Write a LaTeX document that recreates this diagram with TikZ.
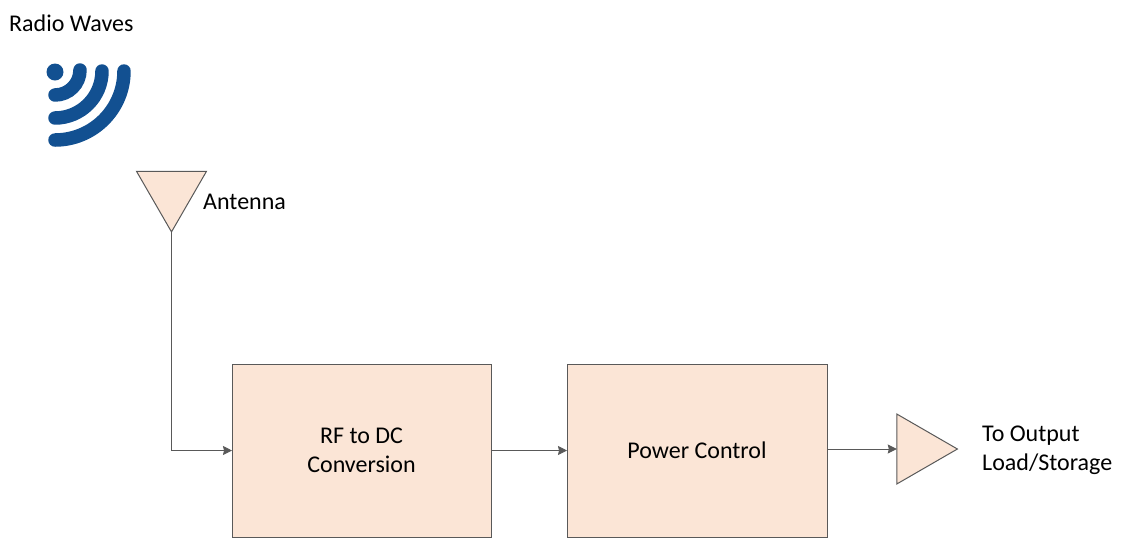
\documentclass[tikz,border=0pt]{standalone}
\usepackage{fontspec}
\setmainfont{Carlito}
\usetikzlibrary{
        arrows.meta,
        positioning,
        shapes.geometric
    }
\definecolor{peach}{HTML}{FBE5D6}
\definecolor{edgegray}{HTML}{595959}
\definecolor{waveblue}{HTML}{125091}
\tikzset{>={Stealth[length=9pt,width=9pt,inset=1pt]},node distance=76pt}
\tikzset{
    block/.style={draw=edgegray,line width=1pt,fill=peach,minimum width=259pt,minimum height=173pt,
        align=center,font=\fontsize{24}{29}\selectfont,outer sep=0pt},
    tri/.style={regular polygon,regular polygon sides=3,draw=edgegray,line width=1pt,fill=peach,
        minimum size=80.8pt,inner sep=0pt,outer sep=0pt},
    lbl/.style={anchor=west,align=left,inner sep=0pt,font=\fontsize{24}{29}\selectfont},
    wave/.style={draw=waveblue,line width=13.5pt,line cap=round}
}
\begin{document}
\begin{tikzpicture}[x=1pt,y=-1pt]
    \useasboundingbox (0,0) rectangle (1129,558);
    \node[lbl] (radio) at (9,23) {Radio Waves};
    \fill[waveblue] (55,72) circle (8.5pt);
    \foreach \r/\ys in {25/70,47/71,69/71}
        \draw[wave] (55+\r,\ys) arc (0:-90:{\r*1pt});
    \node[tri,shape border rotate=180] (ant) at (171.5,191.5) {};
    \node[lbl] (antlbl) at (203,201.5) {Antenna};
    \node[block] (rf) at (361.5,450.5) {RF to DC\\Conversion};
    \node[block,minimum width=260pt] (power) [right=of rf] {Power Control};
    \node[tri,shape border rotate=-90] (out) at (917,449) {};
    \node[lbl] (outlbl) at (982,450) {To Output\\Load/Storage};
    \draw[->,draw=edgegray,line width=1pt] (ant.corner 1) |- (rf.west);
    \path[->,edgegray,line width=1pt]
        (rf) edge (power)
        (power.east |- out.west) edge (out.west)
    ;
\end{tikzpicture}
\end{document}
